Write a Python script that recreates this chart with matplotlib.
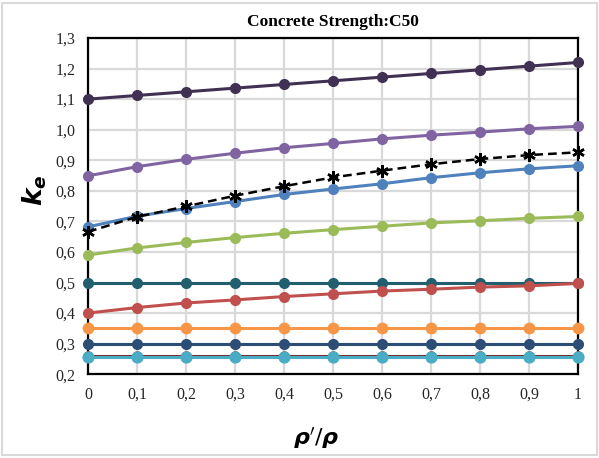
import numpy as np
import matplotlib.pyplot as plt
from matplotlib.patches import Rectangle

# Reinforcement ratio rho'/rho on the x axis
ratio = [0, 0.1, 0.2, 0.3, 0.4, 0.5, 0.6, 0.7, 0.8, 0.9, 1.0]
x_labels = ['0', '0,1', '0,2', '0,3', '0,4', '0,5', '0,6', '0,7', '0,8', '0,9', '1']
y_ticks = [0.2, 0.3, 0.4, 0.5, 0.6, 0.7, 0.8, 0.9, 1.0, 1.1, 1.2, 1.3]

# k_e curves, C50 concrete
ke_dark_purple = [1.100, 1.112, 1.124, 1.136, 1.148, 1.160, 1.172, 1.184, 1.196, 1.208, 1.220]
ke_purple = [0.849, 0.879, 0.903, 0.923, 0.941, 0.955, 0.970, 0.982, 0.992, 1.003, 1.011]
ke_blue = [0.682, 0.717, 0.742, 0.765, 0.788, 0.806, 0.823, 0.843, 0.859, 0.872, 0.882]
ke_green = [0.590, 0.613, 0.631, 0.647, 0.661, 0.673, 0.684, 0.695, 0.702, 0.710, 0.716]
ke_teal = [0.50] * 11
ke_red = [0.400, 0.418, 0.433, 0.443, 0.454, 0.463, 0.472, 0.478, 0.485, 0.489, 0.497]
ke_orange = [0.35] * 11
ke_navy = [0.30] * 11
ke_maroon = [0.260] * 11
ke_cyan = [0.256] * 11
ke_dashed = [0.666, 0.715, 0.749, 0.784, 0.815, 0.844, 0.866, 0.887, 0.904, 0.917, 0.926]

series = [
    (ke_dark_purple, '#403152', 7.0),
    (ke_purple, '#8064A2', 7.0),
    (ke_green, '#9BBB59', 7.0),
    (ke_teal, '#215F6E', 7.0),
    (ke_red, '#C0504D', 7.0),
    (ke_orange, '#F79646', 7.5),
    (ke_navy, '#2C4D75', 7.0),
    (ke_maroon, '#772C2A', 6.5),
    (ke_cyan, '#4BACC6', 7.8),
    (ke_blue, '#4F81BD', 7.0),
]

fig = plt.figure(figsize=(5.99, 4.58), dpi=100)
ax = fig.add_axes([0.147, 0.183, 0.818, 0.734])

for values, color, ms in series:
    ax.plot(ratio, values, color=color, linewidth=2.2, marker='o',
            markersize=ms, clip_on=False, zorder=3)

ax.plot(ratio, ke_dashed, color='black', linewidth=1.8, linestyle=(0, (3.5, 2)),
        marker=(6, 2, 0), markersize=9, markeredgewidth=1.8, clip_on=False, zorder=4)

ax.set_xlim(0, 1)
ax.set_ylim(0.2, 1.3)
ax.set_xticks(ratio)
ax.set_xticklabels(x_labels)
ax.set_yticks(y_ticks)
ax.set_yticklabels([f'{v:.1f}'.replace('.', ',') for v in y_ticks])

for lab in ax.get_xticklabels() + ax.get_yticklabels():
    lab.set_fontfamily('Liberation Serif')
    lab.set_fontsize(11.5)
    lab.set_color('#262626')
ax.tick_params(length=0, pad=9)

ax.grid(True, color='#D9D9D9', linewidth=1.6)
ax.set_axisbelow(True)
for sp in ax.spines.values():
    sp.set_color('black')
    sp.set_linewidth(1.6)

ax.set_title('Concrete Strength:C50', fontfamily='Liberation Serif',
             fontweight='bold', fontsize=12.5, pad=9)

# axis titles placed on the figure
fig.text(0.058, 0.585, r'$\mathbfit{k_e}$', rotation=90, fontsize=19,
         ha='center', va='center', math_fontfamily='dejavusans')
fig.text(0.528, 0.044, r"$\mathbfit{\rho}\mathbf{'}/\mathbfit{\rho}$", fontsize=16,
         ha='center', va='center', math_fontfamily='dejavusans')

# light frame around the chart
fig.patches.append(Rectangle((0.004, 0.006), 0.992, 0.988, transform=fig.transFigure,
                             fill=False, edgecolor='#D9D9D9', linewidth=1.5))

fig.savefig('out.png', dpi=100)
